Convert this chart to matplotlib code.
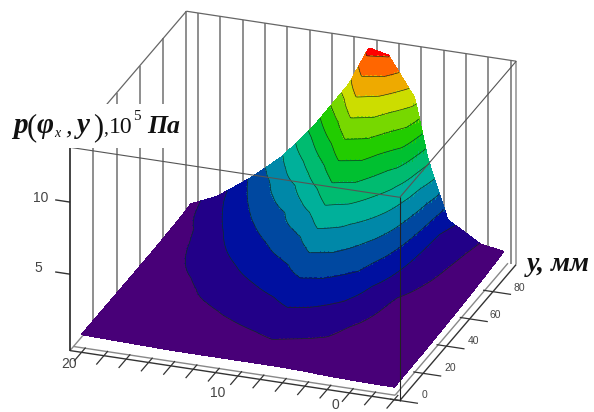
#!/usr/bin/env python3
"""Pressure surface p(phi_x, y) as a banded 3D surface."""
import numpy as np
import matplotlib
matplotlib.use('Agg')
import matplotlib.pyplot as plt
from matplotlib.colors import BoundaryNorm, ListedColormap
from matplotlib.patches import Rectangle

W, H = 594, 412

# surface nodes
x_nodes = [0.02, 0.10, 0.20, 0.30, 0.40, 0.50, 0.56, 0.62, 0.70, 0.74, 0.80, 0.90, 0.97]
y_nodes = [4, 15, 28, 40, 50, 60, 70, 80, 90, 98]
p_values = [
    [.50, .45, .40, .35, .35, .35, .35, .35, .30, .25, .20, .15, .15],
    [.50, .45, .42, .45, .55, .80, 1.0, .80, .60, .45, .30, .20, .18],
    [.50, .45, .55, .80, 1.2, 1.6, 2.0, 1.8, 1.35, .85, .50, .25, .20],
    [.50, .48, .75, 1.35, 1.9, 2.5, 3.1, 2.9, 2.15, 1.45, .70, .30, .25],
    [.50, .58, 1.1, 1.8, 2.55, 3.3, 4.4, 4.1, 3.1, 1.98, .85, .38, .30],
    [.50, .72, 1.45, 2.35, 3.2, 4.4, 5.9, 5.3, 3.85, 2.9, 1.20, .45, .35],
    [.52, .85, 1.8, 2.9, 3.9, 5.9, 7.6, 7.2, 5.0, 3.7, 1.55, .55, .42],
    [.55, 1.05, 2.25, 3.5, 5.0, 7.5, 9.5, 9.0, 6.4, 4.4, 1.80, .65, .50],
    [.60, 1.35, 2.7, 4.2, 6.4, 9.3, 11.6, 11.0, 8.7, 5.2, 2.0, .80, .60],
    [.70, 1.5, 3.1, 5.0, 7.6, 10.7, 13.4, 13.1, 10.4, 6.3, 2.3, .95, .70],
]

levels = list(range(1, 14))
band_colors = ['#480078', '#220088', '#0010a0', '#0048a0', '#0088a8', '#00b09a', '#00bb70',
               '#00c030', '#22cc00', '#77d800', '#ccdd00', '#eeaa00', '#ff6600', '#ff0000']

x_ticks = [0.035 + 0.0677 * k for k in range(15)]
y_ticks = [0, 20, 40, 60, 80, 100]
z_ticks = [5, 10]
x_lim = (0, 1)
y_lim = (0, 100)
z_lim = (-0.3, 13.8)

x_nodes = np.array(x_nodes)
y_nodes = np.array(y_nodes, dtype=float)
p_values = np.array(p_values)

# finer mesh only so the colour bands have smooth edges
xf = np.linspace(x_nodes[0], x_nodes[-1], 260)
yf = np.linspace(y_nodes[0], y_nodes[-1], 220)
tmp = np.array([np.interp(xf, x_nodes, row) for row in p_values])
zf = np.array([np.interp(yf, y_nodes, col) for col in tmp.T]).T
xg, yg = np.meshgrid(xf, yf)

bounds = [-1] + levels + [20]
cmap = ListedColormap(band_colors)
norm = BoundaryNorm(bounds, cmap.N)

fig = plt.figure(figsize=(W / 100, H / 100), dpi=100)
# square axes, 600 px side, centred on the box centre
S = 600
ax = fig.add_axes([(285 - S / 2) / W, (198 - S / 2) / H, S / W, S / H],
                  projection='3d', computed_zorder=False, proj_type='ortho')
ax.view_init(elev=24.9, azim=-70.2)
ax.set_box_aspect((352, 345, 225), zoom=0.873)
ax.set_xlim(*x_lim)
ax.set_ylim(*y_lim)
ax.set_zlim(*z_lim)
ax.set_axis_off()
ax.patch.set_alpha(0)

x0, x1 = x_lim
y0, y1 = y_lim
z0, z1 = z_lim


def seg(p, q, color='#777777', lw=1.0, zorder=1):
    ax.plot([p[0], q[0]], [p[1], q[1]], [p[2], q[2]], color=color, lw=lw, zorder=zorder,
            solid_capstyle='butt')


# back walls
for xt in x_ticks:
    seg((xt, y1, z0), (xt, y1, z1), '#707070', 1.1)
for yt in y_ticks[1:]:
    seg((x0, yt, z0), (x0, yt, z1), '#707070', 1.1)
seg((x1, y1, z0), (x1, y1, z1), '#999999', 1.2)
seg((x0, y1, z1), (x1, y1, z1), '#666666', 0.9)
seg((x0, y0, z1), (x0, y1, z1), '#666666', 0.9)

# floor frame
seg((x0, y0, z0), (x1, y0, z0), '#333333', 1.0)
seg((x1, y0, z0), (x1, y1, z0), '#333333', 1.0)
seg((x0, y0, z0), (x0, y1, z0), '#888888', 1.0)
seg((x0, 3, z0), (x1 - 0.025, 3, z0), '#888888', 1.0)
seg((x1 - 0.025, 3, z0), (x1 - 0.025, y1, z0), '#888888', 1.0)
for xt in x_ticks:
    seg((xt, 3.5, z0), (xt, -6.5, z0), '#333333', 0.9)
for yt in y_ticks[:-1]:
    seg((x1 - 0.03, yt, z0), (x1 + 0.055, yt, z0), '#333333', 0.9)
for zt in z_ticks:
    seg((x0 - 0.045, y0, zt), (x0, y0, zt), '#333333', 1.0)

fc = cmap(norm(0.25 * (zf[:-1, :-1] + zf[1:, :-1] + zf[:-1, 1:] + zf[1:, 1:])))
ax.plot_surface(xg, yg, zf, facecolors=fc, rstride=1, cstride=1, shade=False,
                linewidth=0, antialiased=False, zorder=2)
ax.contour(xg, yg, zf, levels=levels, colors='#10301a', linewidths=0.45, zorder=3)

# front edges, drawn over the surface
seg((x0, y0, z0), (x0, y0, z1), '#222222', 1.2, 4)
seg((x0, y0, z1), (x1, y0, z1), '#555555', 0.8, 4)
seg((x1, y0, z1), (x1, y1, z1), '#555555', 0.8, 4)
seg((x1, y0, z0), (x1, y0, z1), '#222222', 0.8, 4)


def put(x, y, s, size, **kw):
    kw.setdefault('zorder', 6)
    fig.text(x / W, 1 - y / H, s, fontsize=size, **kw)


# white patches behind the pasted labels
fig.add_artist(Rectangle((0, 1 - 148 / H), 185 / W, 44 / H, transform=fig.transFigure,
                         fc='white', ec='none', zorder=5))
fig.add_artist(Rectangle((524 / W, 1 - 276 / H), 70 / W, 24 / H, transform=fig.transFigure,
                         fc='white', ec='none', zorder=5))

lab = dict(family='Liberation Sans', color='#444444', ha='center', va='center')
for x, y, s in [(41, 198, '10'), (38, 268, '5'), (69, 364, '20'), (218, 393, '10'), (335, 405, '0')]:
    put(x, y, s, 10, **lab)
for x, y, s in [(425, 395, '0'), (450, 368, '20'), (473, 341, '40'), (495, 315, '60'), (519, 288, '80')]:
    put(x, y, s, 7.5, **lab)

ser = dict(family='Liberation Serif', color='#111111', ha='left', va='baseline')
base = 133
for x, dy, s, size, st, wt in [
    (13, 0, 'p', 21, 'italic', 'bold'),
    (27, 2, '(', 22, 'normal', 'normal'),
    (37, 0, '\u03c6', 21, 'italic', 'bold'),
    (54, 4, 'x', 10, 'italic', 'normal'),
    (65, 0, ',', 19, 'italic', 'normal'),
    (77, 0, 'y', 21, 'italic', 'bold'),
    (93, 2, ')', 22, 'normal', 'normal'),
    (103, 0, ',', 14, 'normal', 'normal'),
    (109, 0, '10', 17, 'normal', 'normal'),
    (133, -13, '5', 11, 'normal', 'normal'),
    (147, 0, '\u041f\u0430', 18.5, 'italic', 'bold'),
]:
    put(x, base + dy, s, size, style=st, weight=wt, **ser)

put(527, 271, '\u0443, \u043c\u043c', 20, style='italic', weight='bold', **ser)

fig.savefig('out.png', dpi=100)
